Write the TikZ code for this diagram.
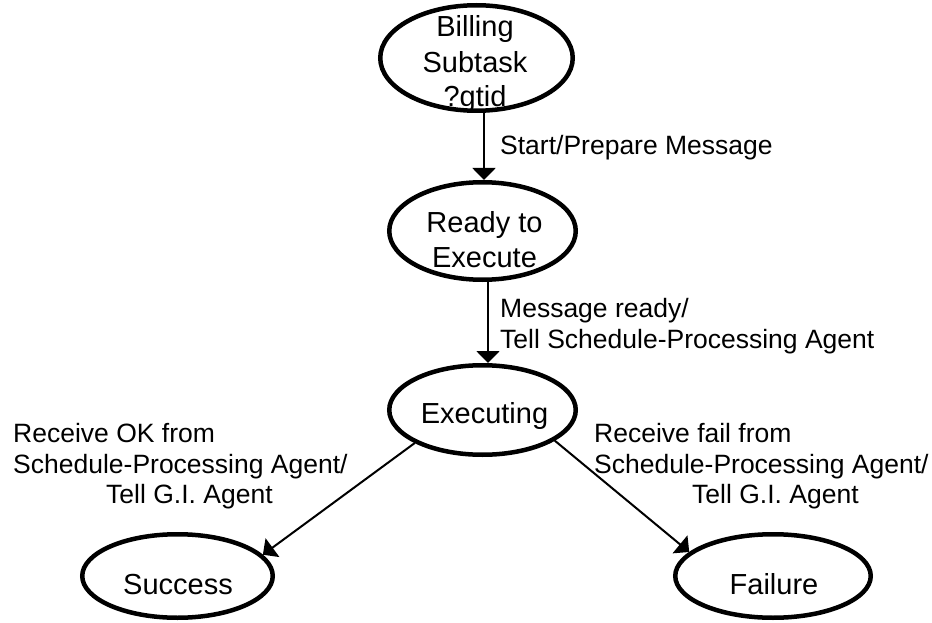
\documentclass[tikz,border=0pt]{standalone}
\usepackage{fontspec}
\setmainfont{Liberation Sans}
\usetikzlibrary{shapes.geometric,arrows.meta}
\begin{document}
\begin{tikzpicture}[x=1pt,y=-1pt,
  state/.style={ellipse, draw, line width=4.5pt, inner sep=0pt},
  stxt/.style={font=\fontsize{29}{34.5}\selectfont, anchor=base, inner sep=0pt},
  ltxt/.style={font=\fontsize{26.5}{31}\selectfont, anchor=base west, inner sep=0pt},
  arr/.style={-{Triangle[width=23pt,length=12pt]}, line width=2pt}]
\useasboundingbox (0,0) rectangle (932,623);
% states
\node[state, minimum width=192.5pt, minimum height=105.5pt] (bill) at (476.5,58) {};
\node[state, minimum width=186.5pt, minimum height=97.5pt] (ready) at (482.5,231) {};
\node[state, minimum width=186.5pt, minimum height=89.5pt] (exec) at (482.5,410) {};
\node[state, minimum width=190.5pt, minimum height=83.5pt] (succ) at (177.5,576) {};
\node[state, minimum width=195.5pt, minimum height=83.5pt] (fail) at (773,576) {};
% state texts
\node[stxt] (billA) at (475,37) {Billing};
\node[stxt] (billB) at (475,72.5) {Subtask};
\node[stxt] (billC) at (475,107) {?gtid};
\node[stxt] (readyA) at (484.5,233) {Ready to};
\node[stxt] (readyB) at (484.5,267) {Execute};
\node[stxt] (execT) at (484.5,423) {Executing};
\node[stxt] (succT) at (178,594) {Success};
\node[stxt] (failT) at (774,594) {Failure};
% connectors
\coordinate (a1) at (484,0);
\coordinate (a2) at (488,0);
\draw[arr] (a1 |- bill.south) -- (a1 |- ready.north);
\draw[arr] (a2 |- ready.south) -- (a2 |- exec.north);
\draw[arr] (exec.206) -- (succ.14);
\draw[arr] (exec.337) -- (fail.164);
% labels
\node[ltxt] (l1) at (500,155) {Start/Prepare Message};
\node[ltxt] (l2a) at (500,317) {Message ready/};
\node[ltxt] (l2b) at (500,348) {Tell Schedule-Processing Agent};
\node[ltxt] (l3a) at (13,442) {Receive OK from};
\node[ltxt] (l3b) at (13,473) {Schedule-Processing Agent/};
\node[ltxt] (l3c) at (106,503) {Tell G.I. Agent};
\node[ltxt] (l4a) at (594,442) {Receive fail from};
\node[ltxt] (l4b) at (594,473) {Schedule-Processing Agent/};
\node[ltxt] (l4c) at (692,503) {Tell G.I. Agent};
\end{tikzpicture}
\end{document}
